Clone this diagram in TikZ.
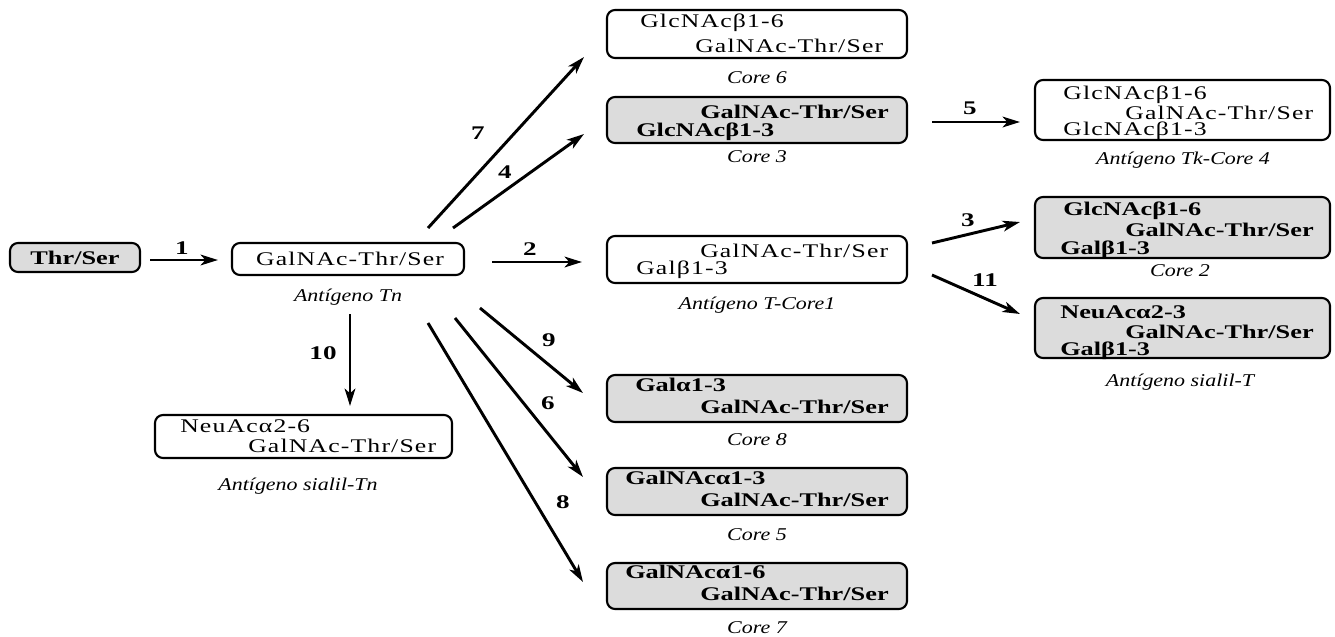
\documentclass[tikz,border=0pt]{standalone}
\usepackage{fontspec}
\setmainfont{Liberation Serif}
\newfontfamily\rgfont[FakeStretch=1.33,LetterSpace=6]{Liberation Serif}
\newfontfamily\bdfont[FakeStretch=1.36,UprightFont=* Bold]{Liberation Serif}
\newfontfamily\itfont[FakeStretch=1.22,UprightFont=* Italic]{Liberation Serif}
\newfontfamily\nmfont[FakeStretch=1.4,UprightFont=* Bold]{Liberation Serif}
\usetikzlibrary{arrows.meta}
\definecolor{boxgrey}{RGB}{220,220,220}
\tikzset{
  box/.style={draw, line width=1.6pt, rounded corners=6pt, minimum width=225pt, inner sep=0pt},
  gbox/.style={box, fill=boxgrey},
  rg/.style={anchor=west, inner sep=0pt, font=\rgfont\fontsize{14.5}{16}\selectfont},
  bd/.style={anchor=west, inner sep=0pt, font=\bdfont\fontsize{14.5}{16}\selectfont},
  lab/.style={inner sep=0pt, font=\itfont\fontsize{13.5}{15}\selectfont},
  num/.style={inner sep=0pt, font=\nmfont\fontsize{14.5}{16}\selectfont},
  arr/.style={line width=2.2pt, -{Stealth[length=13pt,width=8pt,inset=3.5pt]}}
}
\begin{document}
\begin{tikzpicture}[x=0.75pt,y=-0.75pt]
\useasboundingbox (0,0) rectangle (1335,636);
% boxes
\node[gbox, minimum width=97.5pt, minimum height=21.75pt] (thr) at (75,257.5) {};
\node[box, minimum width=174pt, minimum height=24pt] (tn) at (348,259) {};
\node[box, minimum height=35.25pt] (t1) at (757,259.5) {};
\node[box, minimum height=36pt] (c6) at (757,34) {};
\node[gbox, minimum height=34.5pt] (c3) at (757,120) {};
\node[box, minimum width=221.25pt, minimum height=45pt] (tk) at (1182.5,110) {};
\node[gbox, minimum width=221.25pt, minimum height=45.75pt] (c2) at (1182.5,227.5) {};
\node[gbox, minimum width=221.25pt, minimum height=45pt] (st) at (1182.5,328) {};
\node[box, minimum width=222.75pt, minimum height=32.25pt] (stn) at (303.5,436.5) {};
\node[gbox, minimum height=35.25pt] (c8) at (757,398.5) {};
\node[gbox, minimum height=35.25pt] (c5) at (757,491.5) {};
\node[gbox, minimum height=34.5pt] (c7) at (757,586) {};
% box texts
\node[inner sep=0pt, font=\bdfont\fontsize{14.5}{16}\selectfont] (thrT) at (75,258) {Thr/Ser};
\node[inner sep=0pt, font=\rgfont\fontsize{14.5}{16}\selectfont] (tnT) at (350,259) {GalNAc-Thr/Ser};
\node[rg] (c6a) at (640,23) {GlcNAcβ1-6};
\node[rg] (c6b) at (695,46) {GalNAc-Thr/Ser};
\node[bd] (c3a) at (700,112) {GalNAc-Thr/Ser};
\node[bd] (c3b) at (636,132) {GlcNAcβ1-3};
\node[rg] (t1a) at (700,251) {GalNAc-Thr/Ser};
\node[rg] (t1b) at (636,270) {Galβ1-3};
\node[rg] (tka) at (1063,95) {GlcNAcβ1-6};
\node[rg] (tkb) at (1125,113) {GalNAc-Thr/Ser};
\node[rg] (tkc) at (1063,131) {GlcNAcβ1-3};
\node[bd] (c2a) at (1063,211) {GlcNAcβ1-6};
\node[bd] (c2b) at (1125,230) {GalNAc-Thr/Ser};
\node[bd] (c2c) at (1060,250) {Galβ1-3};
\node[bd] (sta) at (1060,312) {NeuAcα2-3};
\node[bd] (stb) at (1125,332) {GalNAc-Thr/Ser};
\node[bd] (stc) at (1060,351) {Galβ1-3};
\node[rg] (stna) at (180,426) {NeuAcα2-6};
\node[rg] (stnb) at (248,446) {GalNAc-Thr/Ser};
\node[bd] (c8a) at (635,385) {Galα1-3};
\node[bd] (c8b) at (700,407) {GalNAc-Thr/Ser};
\node[bd] (c5a) at (625,478) {GalNAcα1-3};
\node[bd] (c5b) at (700,500) {GalNAc-Thr/Ser};
\node[bd] (c7a) at (625,572) {GalNAcα1-6};
\node[bd] (c7b) at (700,594) {GalNAc-Thr/Ser};
% labels
\node[lab] (tnL) at (348,297) {Antígeno Tn};
\node[lab] (t1L) at (757,305) {Antígeno T-Core1};
\node[lab] (c6L) at (757,78) {Core 6};
\node[lab] (c3L) at (757,157) {Core 3};
\node[lab] (tkL) at (1183,160) {Antígeno Tk-Core 4};
\node[lab] (c2L) at (1180,271) {Core 2};
\node[lab] (stL) at (1180,382) {Antígeno sialil-T};
\node[lab] (stnL) at (298,486) {Antígeno sialil-Tn};
\node[lab] (c8L) at (757,440) {Core 8};
\node[lab] (c5L) at (757,535) {Core 5};
\node[lab] (c7L) at (757,628) {Core 7};
% arrow end points
\coordinate (s1) at (150,260); \coordinate (e1) at (218,260);
\coordinate (s2) at (492,262); \coordinate (e2) at (582,262);
\coordinate (s7) at (428,228); \coordinate (e7) at (584,57);
\coordinate (s4) at (453,228); \coordinate (e4) at (584,134);
\coordinate (s5) at (932,122); \coordinate (e5) at (1020,122);
\coordinate (s3) at (932,243); \coordinate (e3) at (1020,222);
\coordinate (s11) at (932,275); \coordinate (e11) at (1020,314);
\coordinate (s10) at (350,314); \coordinate (e10) at (350,406);
\coordinate (s9) at (480,308); \coordinate (e9) at (583,393);
\coordinate (s6) at (455,318); \coordinate (e6) at (583,477);
\coordinate (s8) at (428,323); \coordinate (e8) at (583,582);
% arrows
\draw[arr] (s1) -- (e1);
\draw[arr] (s2) -- (e2);
\draw[arr] (s7) -- (e7);
\draw[arr] (s4) -- (e4);
\draw[arr] (s5) -- (e5);
\draw[arr] (s3) -- (e3);
\draw[arr] (s11) -- (e11);
\draw[arr] (s10) -- (e10);
\draw[arr] (s9) -- (e9);
\draw[arr] (s6) -- (e6);
\draw[arr] (s8) -- (e8);
% numbers
\node[num] (n1) at (182,248) {1};
\node[num] (n2) at (530,249) {2};
\node[num] (n7) at (478,133) {7};
\node[num] (n4) at (505,172) {4};
\node[num] (n5) at (970,108) {5};
\node[num] (n3) at (968,220) {3};
\node[num] (n11) at (985,280) {11};
\node[num] (n10) at (323,353) {10};
\node[num] (n9) at (549,340) {9};
\node[num] (n6) at (548,403) {6};
\node[num] (n8) at (563,502) {8};
\end{tikzpicture}
\end{document}
